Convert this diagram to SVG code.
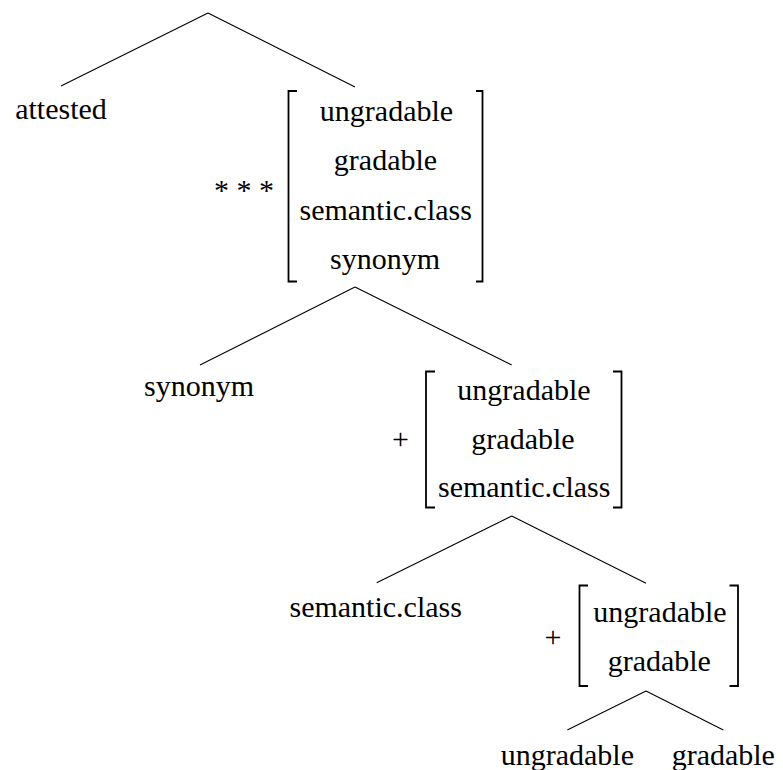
<svg xmlns="http://www.w3.org/2000/svg" width="783" height="770" viewBox="0 0 783 770">
<style>
text{font-size:30px;fill:#000;text-anchor:middle}
.edge{stroke:#000;stroke-width:1.1;fill:none}
.br{stroke:#000;stroke-width:1.8;fill:none}
</style>
<rect width="783" height="770" fill="#fff"/>
<g id="connectors">
<path class="edge" d="M208,13 L61,86 M208,13 L355,87"/>
<path class="edge" d="M355,287 L200,365 M355,287 L511.7,365"/>
<path class="edge" d="M511.7,516 L376.7,582.7 M511.7,516 L646,583.3"/>
<path class="edge" d="M646,691 L567.3,730 M646,691 L723.3,730"/>
</g>
<g id="n-attested"><text font-family="Liberation Serif" x="61" y="119">attested</text></g>
<g id="n-set1">
<text font-family="Liberation Serif" x="244" y="200">* * *</text>
<path class="br" d="M297,91 H288.5 V281.5 H297"/>
<path class="br" d="M476,91 H482.5 V281.5 H476"/>
<text font-family="Liberation Serif" x="386.5" y="121">ungradable</text>
<text font-family="Liberation Serif" x="385.5" y="170">gradable</text>
<text font-family="Liberation Serif" x="385.7" y="219.5">semantic.class</text>
<text font-family="Liberation Serif" x="385" y="269">synonym</text>
</g>
<g id="n-synonym"><text font-family="Liberation Serif" x="199" y="396">synonym</text></g>
<g id="n-set2">
<text font-family="Liberation Serif" x="400.5" y="449">+</text>
<path class="br" d="M435,371.5 H426 V507.5 H435"/>
<path class="br" d="M613,371.5 H621.5 V507.5 H613"/>
<text font-family="Liberation Serif" x="524" y="399.5">ungradable</text>
<text font-family="Liberation Serif" x="523" y="448.5">gradable</text>
<text font-family="Liberation Serif" x="524.2" y="497">semantic.class</text>
</g>
<g id="n-semclass"><text font-family="Liberation Serif" x="375.7" y="617">semantic.class</text></g>
<g id="n-set3">
<text font-family="Liberation Serif" x="553" y="646.5">+</text>
<path class="br" d="M588,585.5 H579.5 V686 H588"/>
<path class="br" d="M729.5,585.5 H738 V686 H729.5"/>
<text font-family="Liberation Serif" x="660" y="621.7">ungradable</text>
<text font-family="Liberation Serif" x="659.3" y="670.7">gradable</text>
</g>
<g id="n-ungradable"><text font-family="Liberation Serif" x="567.4" y="765">ungradable</text></g>
<g id="n-gradable"><text font-family="Liberation Serif" x="723.3" y="765">gradable</text></g>
</svg>
